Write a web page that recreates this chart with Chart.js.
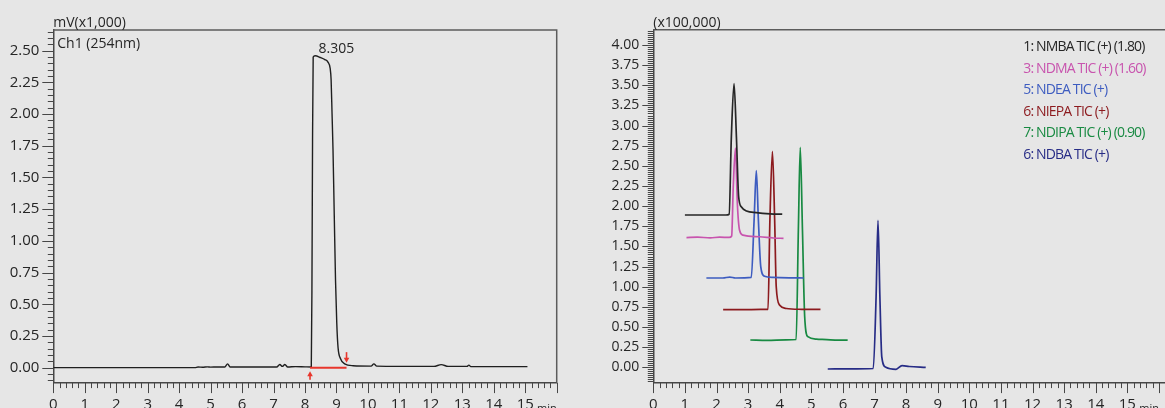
<!DOCTYPE html>
<html>
<head>
<meta charset="utf-8">
<script src="https://cdn.jsdelivr.net/npm/chart.js@4.4.1/dist/chart.umd.min.js"></script>
<style>
  html, body { margin: 0; padding: 0; background: #e6e6e6; overflow: hidden; }
  body { width: 1165px; height: 408px; position: relative; }
  canvas { position: absolute; top: 0; }
  #uv { left: 0; }
  #tic { left: 590px; }
</style>
</head>
<body>
<canvas id="uv" width="580" height="408"></canvas>
<canvas id="tic" width="580" height="408"></canvas>
<script>
// Ch1 (254nm): retention time in min, signal in mV (x1,000)
const uvTime = [0, 4.5, 4.6, 4.75, 4.9, 5.0, 5.2, 5.45, 5.54, 5.62, 5.8, 6.5, 7.1, 7.2, 7.28, 7.36, 7.45, 7.7, 8.0, 8.2,
  8.22, 8.24, 8.26, 8.32, 8.5, 8.63, 8.73, 8.8, 8.83, 8.86, 8.89, 8.93, 8.97, 9.01, 9.05, 9.13, 9.26, 9.53,
  10.1, 10.19, 10.28, 11.0, 12.1, 12.33, 12.55, 13.15, 13.21, 13.27, 14.0, 15.07]
const uvSignal = [0, 0, 0.005, 0.003, 0.006, 0.004, 0.005, 0.005, 0.03, 0.005, 0.005, 0.005, 0.005, 0.025, 0.01, 0.025, 0.005, 0.008, 0.006, 0.005,
  0.6, 1.8, 2.45, 2.46, 2.445, 2.43, 2.41, 2.36, 2.27, 2.0, 1.72, 1.2, 0.69, 0.35, 0.16, 0.07, 0.03, 0.015,
  0.012, 0.03, 0.012, 0.01, 0.01, 0.024, 0.01, 0.01, 0.02, 0.008, 0.008, 0.008]
const uvPeakTime = 8.305
const uvPeakLabel = '8.305'
const uvBaselineStart = 8.16
const uvBaselineEnd = 9.32

// TIC traces, intensity x100,000 (offset per compound)
const nmbaTime = [1.0, 1.6, 2.0, 2.3, 2.4, 2.47, 2.555, 2.63, 2.7, 2.79, 2.95, 3.26, 3.7, 4.08]
const nmbaSignal = [1.89, 1.89, 1.89, 1.89, 1.9, 2.86, 3.52, 2.86, 2.12, 1.99, 1.94, 1.92, 1.905, 1.9]
const ndmaTime = [1.05, 1.4, 1.8, 2.1, 2.4, 2.48, 2.53, 2.6, 2.66, 2.73, 2.84, 3.36, 3.8, 4.12]
const ndmaSignal = [1.61, 1.615, 1.607, 1.615, 1.612, 1.63, 2.24, 2.72, 2.03, 1.7, 1.64, 1.62, 1.605, 1.6]
const ndeaTime = [1.68, 2.2, 2.42, 2.6, 3.1, 3.19, 3.26, 3.325, 3.4, 3.52, 3.79, 4.3, 4.76]
const ndeaSignal = [1.108, 1.108, 1.12, 1.108, 1.115, 1.83, 2.44, 1.83, 1.25, 1.13, 1.115, 1.11, 1.108]
const niepaTime = [2.21, 2.8, 3.4, 3.63, 3.69, 3.77, 3.84, 3.89, 4.0, 4.21, 4.7, 5.29]
const niepaSignal = [0.715, 0.715, 0.718, 0.72, 1.83, 2.68, 1.83, 1.0, 0.77, 0.73, 0.72, 0.718]
const ndipaTime = [3.07, 3.6, 4.2, 4.52, 4.59, 4.65, 4.72, 4.79, 4.89, 5.16, 5.6, 6.15]
const ndipaSignal = [0.339, 0.335, 0.34, 0.345, 1.7, 2.73, 1.7, 0.63, 0.38, 0.35, 0.34, 0.336]
const ndbaTime = [5.52, 6.2, 6.96, 7.05, 7.11, 7.17, 7.23, 7.36, 7.68, 7.87, 8.1, 8.62]
const ndbaSignal = [-0.021, -0.02, -0.015, 0.876, 1.824, 0.876, 0.13, 0.0, -0.025, 0.02, 0.01, 0.0]

const ticNames = [
  '1: NMBA TIC (+) (1.80)',
  '3: NDMA TIC (+) (1.60)',
  '5: NDEA TIC (+)',
  '6: NIEPA TIC (+)',
  '7: NDIPA TIC (+) (0.90)',
  '6: NDBA TIC (+)'
]
const ticColors = ['#262626', '#c854ae', '#3d5cc0', '#8c1a1e', '#188a42', '#272c86']

const timeTicks = [0, 1, 2, 3, 4, 5, 6, 7, 8, 9, 10, 11, 12, 13, 14, 15]
const uvYTicks = [0, 0.25, 0.5, 0.75, 1, 1.25, 1.5, 1.75, 2, 2.25, 2.5]
const ticYTicks = [0, 0.25, 0.5, 0.75, 1, 1.25, 1.5, 1.75, 2, 2.25, 2.5, 2.75, 3, 3.25, 3.5, 3.75, 4]

const axisColor = '#474747'
const textColor = '#262626'
const family = '"Open Sans", "Noto Sans", sans-serif'
const plotBottom = 382.6

const toPoints = (xs, ys) => xs.map((x, i) => ({ x, y: ys[i] }))

function trace (xs, ys, color, width) {
  return {
    data: toPoints(xs, ys),
    borderColor: color,
    borderWidth: width,
    pointRadius: 0,
    cubicInterpolationMode: 'monotone',
    fill: false
  }
}

function timeAxis (max) {
  return {
    type: 'linear',
    min: 0,
    max,
    afterBuildTicks: s => { s.ticks = timeTicks.map(value => ({ value })) },
    afterFit: s => { s.height = 408 - plotBottom },
    grid: { drawOnChartArea: false, drawTicks: false },
    border: { display: true, color: axisColor, width: 1.5 },
    ticks: {
      autoSkip: false,
      maxRotation: 0,
      padding: 13,
      color: textColor,
      font: { family, size: 15 },
      callback: v => String(v)
    }
  }
}

function valueAxis (min, max, list, width, size) {
  return {
    type: 'linear',
    min,
    max,
    afterBuildTicks: s => { s.ticks = list.map(value => ({ value })) },
    afterFit: s => { s.width = width },
    grid: { drawOnChartArea: false, drawTicks: false },
    border: { display: true, color: axisColor, width: 1.5 },
    ticks: {
      autoSkip: false,
      padding: 14,
      color: textColor,
      font: { family, size },
      callback: v => v.toFixed(2)
    }
  }
}

// comb of major/minor tick marks plus the frame lines
const combTicks = {
  id: 'combTicks',
  afterDraw (chart, _args, opts) {
    const { ctx, chartArea: a, scales: { x, y } } = chart
    const isMajor = (v, step) => Math.abs(v / step - Math.round(v / step)) < 1e-6
    ctx.save()
    ctx.strokeStyle = axisColor
    ctx.lineWidth = 1
    ctx.beginPath()
    for (let i = 0; ; i++) {
      const v = opts.yFrom + i * opts.yMinor
      if (v > opts.yTo + 1e-9) break
      const p = Math.round(y.getPixelForValue(v)) + 0.5
      ctx.moveTo(a.left - (isMajor(v, 0.25) ? 11 : 5.5), p)
      ctx.lineTo(a.left, p)
    }
    for (let i = 0; ; i++) {
      const v = i * 0.2
      if (v > x.max + 1e-9) break
      const p = Math.round(x.getPixelForValue(v)) + 0.5
      ctx.moveTo(p, a.bottom)
      ctx.lineTo(p, a.bottom + (isMajor(v, 1) ? 10.5 : 5.5))
    }
    ctx.stroke()

    ctx.strokeStyle = '#5c5c5c'
    ctx.lineWidth = 1.5
    ctx.beginPath()
    ctx.moveTo(a.left, a.top)
    ctx.lineTo(a.right, a.top)
    if (opts.rightBorder) ctx.lineTo(a.right, a.bottom)
    ctx.stroke()

    ctx.fillStyle = textColor
    ctx.font = `14px ${family}`
    ctx.textAlign = 'left'
    ctx.textBaseline = 'alphabetic'
    ctx.fillText(opts.unit, a.left, 27)

    ctx.font = `11px ${family}`
    ctx.textAlign = 'right'
    ctx.textBaseline = 'top'
    ctx.fillText('min', x.getPixelForValue(16), 403)
    ctx.restore()
  }
}

// channel name, peak label and integration marks on the UV trace
const uvNotes = {
  id: 'uvNotes',
  afterDraw (chart) {
    const { ctx, chartArea: a, scales: { x, y } } = chart
    ctx.save()
    ctx.fillStyle = textColor
    ctx.font = `14px ${family}`
    ctx.textBaseline = 'alphabetic'
    ctx.fillText('Ch1 (254nm)', a.left + 4, 48)
    ctx.fillText(uvPeakLabel, x.getPixelForValue(uvPeakTime) + 4, 52.5)

    const arrow = (px, tip, tail) => {
      const dir = Math.sign(tail - tip)
      ctx.beginPath()
      ctx.moveTo(px, tail)
      ctx.lineTo(px, tip + dir * 3)
      ctx.stroke()
      ctx.beginPath()
      ctx.moveTo(px, tip)
      ctx.lineTo(px - 2.8, tip + dir * 5)
      ctx.lineTo(px + 2.8, tip + dir * 5)
      ctx.closePath()
      ctx.fill()
    }
    ctx.strokeStyle = '#e8362c'
    ctx.fillStyle = '#e8362c'
    ctx.lineWidth = 1.6
    const y0 = y.getPixelForValue(0)
    arrow(x.getPixelForValue(uvBaselineStart), y0 + 3.5, y0 + 12)
    arrow(x.getPixelForValue(uvBaselineEnd), y0 - 5, y0 - 15.5)
    ctx.restore()
  }
}

// compound list in the TIC panel
const ticLegend = {
  id: 'ticLegend',
  afterDraw (chart) {
    const { ctx } = chart
    ctx.save()
    ctx.font = `14px ${family}`
    ctx.letterSpacing = '-0.85px'
    ctx.textAlign = 'left'
    ctx.textBaseline = 'alphabetic'
    ticNames.forEach((name, i) => {
      ctx.fillStyle = ticColors[i]
      ctx.fillText(name, 433.3, 51.2 + i * 21.5)
    })
    ctx.restore()
  }
}

Chart.defaults.animation = false
Chart.defaults.events = []
Chart.defaults.plugins.legend.display = false
Chart.defaults.plugins.tooltip.enabled = false

/* eslint-disable no-new */
new Chart(document.getElementById('uv'), {
  type: 'line',
  data: {
    datasets: [
      trace([uvBaselineStart, uvBaselineEnd], [0, 0], '#e8362c', 2),
      trace(uvTime, uvSignal, '#1f1f1f', 1.4)
    ]
  },
  options: {
    responsive: false,
    layout: { padding: { top: 30, right: 23.3, left: 0, bottom: 0 } },
    scales: {
      x: timeAxis(16),
      y: valueAxis(-0.118, 2.663, uvYTicks, 53.3, 15)
    },
    plugins: {
      combTicks: { yFrom: -0.1, yTo: 2.65, yMinor: 0.05, unit: 'mV(x1,000)', rightBorder: true }
    }
  },
  plugins: [combTicks, uvNotes]
})

new Chart(document.getElementById('tic'), {
  type: 'line',
  data: {
    datasets: [
      trace(nmbaTime, nmbaSignal, ticColors[0], 1.7),
      trace(ndmaTime, ndmaSignal, ticColors[1], 1.7),
      trace(ndeaTime, ndeaSignal, ticColors[2], 1.7),
      trace(niepaTime, niepaSignal, ticColors[3], 1.7),
      trace(ndipaTime, ndipaSignal, ticColors[4], 1.7),
      trace(ndbaTime, ndbaSignal, ticColors[5], 1.7)
    ]
  },
  options: {
    responsive: false,
    layout: { padding: { top: 29.7, right: 0, left: 0, bottom: 0 } },
    scales: {
      x: timeAxis(16.35),
      y: valueAxis(-0.19, 4.19, ticYTicks, 63.3, 14)
    },
    plugins: {
      combTicks: { yFrom: -0.175, yTo: 4.175, yMinor: 0.025, unit: '(x100,000)', rightBorder: false }
    }
  },
  plugins: [combTicks, ticLegend]
})
</script>
</body>
</html>
